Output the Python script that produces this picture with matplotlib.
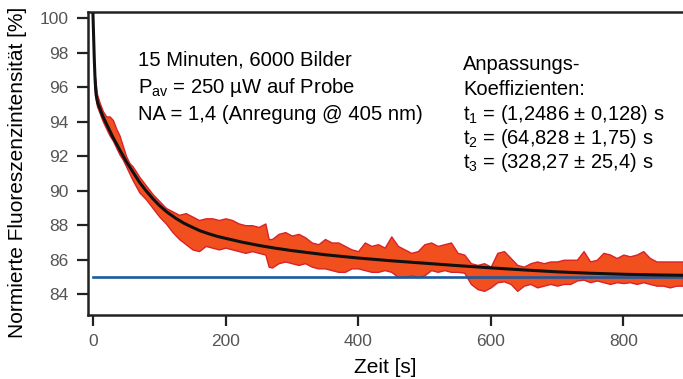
import numpy as np
import matplotlib
matplotlib.use("Agg")
import matplotlib.pyplot as plt

plt.rcParams['font.family'] = ['Liberation Sans', 'DejaVu Sans']
plt.rcParams['mathtext.fontset'] = 'custom'
plt.rcParams['mathtext.rm'] = 'Liberation Sans'
plt.rcParams['mathtext.it'] = 'Liberation Sans'

zeit = [3, 6, 10, 15, 20, 25, 30, 35, 40, 45, 50, 55, 60, 70, 80, 90, 100, 110, 120,
        130, 140, 150, 160, 170, 180, 190, 200, 210, 220, 230, 240, 250, 260, 265, 270,
        280, 290, 300, 310, 320, 330, 340, 350, 360, 370, 380, 390, 400, 410, 420, 430,
        440, 450, 460, 470, 480, 490, 500, 510, 520, 530, 540, 550, 560, 570, 580, 590,
        600, 610, 620, 630, 640, 650, 660, 670, 680, 690, 700, 710, 720, 730, 740, 750,
        760, 770, 780, 790, 800, 810, 820, 830, 840, 850, 860, 870, 880, 890]
oben = [96.6, 95.6, 95.1, 94.6, 94.3, 94.3, 94.1, 93.6, 93.2, 92.6, 92.0, 91.6, 91.4,
        90.8, 90.3, 89.8, 89.4, 89.0, 88.8, 88.6, 88.7, 88.5, 88.3, 88.4, 88.4, 88.3,
        88.4, 88.3, 88.1, 88.0, 88.0, 87.9, 88.1, 87.2, 87.2, 87.5, 87.6, 87.4, 87.5,
        87.3, 87.0, 86.9, 87.2, 87.0, 87.0, 86.8, 86.6, 86.5, 87.0, 86.8, 86.9, 86.7,
        87.35, 86.8, 86.6, 86.4, 86.5, 86.9, 87.0, 86.8, 86.9, 87.0, 86.4, 86.3, 85.8,
        85.7, 85.8, 85.6, 86.4, 86.5, 86.1, 85.7, 85.6, 85.8, 85.9, 85.8, 85.9, 85.9,
        86.0, 86.0, 86.0, 86.5, 85.9, 86.0, 86.4, 86.3, 86.1, 86.3, 86.2, 86.3, 86.5,
        86.1, 85.9, 85.9, 85.9, 85.9, 85.9]
unten = [95.6, 94.9, 94.5, 94.0, 93.6, 93.2, 92.9, 92.5, 92.1, 91.8, 91.4, 91.0, 90.6,
         89.9, 89.5, 89.0, 88.5, 88.1, 87.6, 87.2, 86.9, 86.6, 86.5, 86.8, 86.7, 86.6,
         86.7, 86.6, 86.5, 86.4, 86.5, 86.4, 86.3, 85.6, 85.55, 85.8, 85.9, 85.8, 85.7,
         85.8, 85.6, 85.5, 85.5, 85.4, 85.3, 85.3, 85.5, 85.5, 85.4, 85.3, 85.3, 85.4,
         85.3, 85.0, 85.0, 85.1, 85.0, 85.1, 85.4, 85.3, 85.4, 85.3, 85.3, 85.25, 84.6,
         84.3, 84.2, 84.4, 84.7, 84.75, 84.6, 84.2, 84.5, 84.6, 84.4, 84.5, 84.6, 84.5,
         84.6, 84.6, 84.8, 84.85, 84.7, 84.8, 84.7, 84.6, 84.7, 84.65, 84.7, 84.6, 84.7,
         84.6, 84.5, 84.5, 84.4, 84.5, 84.5]

# anpassung
fit_t = [0, 1, 2, 3, 4, 5, 7, 10, 15, 20, 30, 40, 50, 60, 70, 80, 90, 100, 112, 125,
         137, 150, 162, 175, 187, 200, 225, 250, 275, 300, 350, 400, 450, 500, 550,
         600, 650, 700, 750, 800, 850, 890]
fit_y = [100.2, 98.9, 97.6, 96.6, 95.9, 95.5, 95.1, 94.8, 94.3, 93.9, 93.1, 92.4, 91.7,
         91.1, 90.5, 90.0, 89.55, 89.15, 88.75, 88.4, 88.12, 87.88, 87.67, 87.5, 87.36,
         87.24, 87.02, 86.83, 86.67, 86.53, 86.29, 86.1, 85.94, 85.8, 85.66, 85.53,
         85.41, 85.3, 85.22, 85.16, 85.12, 85.1]

grenze = 85.0

fig = plt.figure(figsize=(6.83, 3.79), dpi=100)
ax = fig.add_axes([88/683, 1-315/379, 1-88/683, (315-12)/379])

ax.fill_between(zeit, unten, oben, facecolor='#f24f1f',
                edgecolor='#d8222a', linewidth=1.0, zorder=2)
ax.axhline(grenze, xmin=7.5/897.5, color='#1b5a9e', lw=1.9, zorder=3)
ax.plot(fit_t, fit_y, color='#111111', lw=2.2, zorder=4)

ax.set_xlim(-7.5, 890)
ax.set_ylim(82.8, 100.35)
ax.set_xticks([0, 200, 400, 600, 800])
ax.set_yticks(np.arange(84, 101, 2))
ax.tick_params(direction='out', length=8, width=1.6, labelsize=12.5,
               labelcolor='#555555', color='#222222', pad=6)
for s in ['left', 'bottom', 'top']:
    ax.spines[s].set_linewidth(1.8)
    ax.spines[s].set_color('#222222')
ax.spines['right'].set_visible(False)

ax.set_ylabel('Normierte Fluoreszenzintensität [%]', fontsize=15)
ax.yaxis.set_label_coords(-(88-27)/595, (315-172)/303)
ax.set_xlabel('Zeit [s]', fontsize=15, labelpad=6)

links = ['15 Minuten, 6000 Bilder',
         r'P$_{\mathrm{av}}$ = 250 µW auf Probe',
         'NA = 1,4 (Anregung @ 405 nm)']
for i, z in enumerate(links):
    fig.text(138/683, 1-(60+27.5*i)/379, z, fontsize=14.6, va='center', ha='left')

rechts = ['Anpassungs-', 'Koeffizienten:',
          r't$_1$ = (1,2486 ± 0,128) s',
          r't$_2$ = (64,828 ± 1,75) s',
          r't$_3$ = (328,27 ± 25,4) s']
for i, z in enumerate(rechts):
    fig.text(463/683, 1-(65+24.5*i)/379, z, fontsize=14.5, va='center', ha='left')

fig.savefig('out.png', dpi=100)
